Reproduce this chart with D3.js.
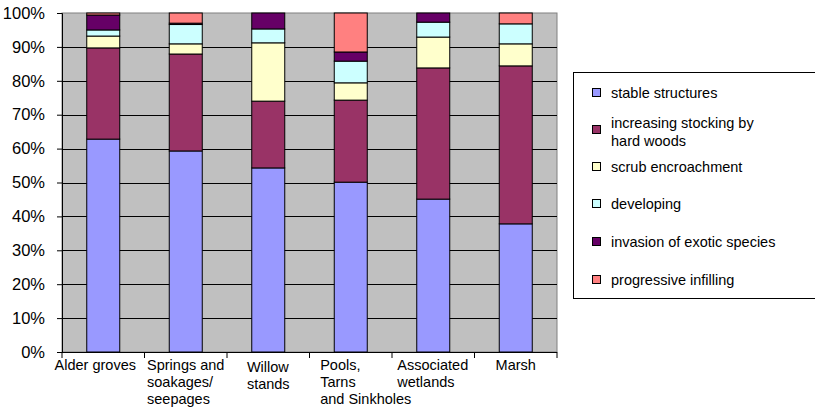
<!DOCTYPE html>
<html>
<head>
<meta charset="utf-8">
<script src="https://cdn.jsdelivr.net/npm/d3@7"></script>
<style>
  body { margin: 0; background: #fff; }
  svg { display: block; font-family: "Liberation Sans", Arial, sans-serif; }
</style>
</head>
<body>
<svg width="815" height="412"></svg>
<script>
// categories (each label split into lines)
var categories = ["Alder groves", "Springs and soakages/ seepages", "Willow stands",
                  "Pools, Tarns and Sinkholes", "Associated wetlands", "Marsh"];
var categoryLines = [["Alder groves"], ["Springs and", "soakages/", "seepages"], ["Willow", "stands"],
                     ["Pools,", "Tarns", "and Sinkholes"], ["Associated", "wetlands"], ["Marsh"]];

// series, percent of sites per category
var seriesNames = ["stable structures", "increasing stocking by hard woods", "scrub encroachment",
                   "developing", "invasion of exotic species", "progressive infilling"];
var stable      = [62.8, 59.3, 54.3, 50.1, 45.1, 37.8];
var hardwoods   = [26.9, 28.6, 19.7, 24.2, 38.7, 46.6];
var scrub       = [ 3.5,  3.0, 17.2,  5.1,  9.1,  6.5];
var developing  = [ 1.8,  5.7,  4.1,  6.4,  4.4,  5.9];
var exotic      = [ 4.4,  0.4,  4.7,  2.7,  2.7,  0.0];
var infilling   = [ 0.6,  3.0,  0.0, 11.5,  0.0,  3.2];

var yTicks = [0, 10, 20, 30, 40, 50, 60, 70, 80, 90, 100];
var colors = ["#9999FF", "#993366", "#FFFFCC", "#CCFFFF", "#660066", "#FF8080"];

var svg = d3.select("svg");
var margin = { top: 13, left: 62, right: 257, bottom: 60 },
    width = 557 - margin.left,
    height = 352 - margin.top;

// build table for the stack
var seriesValues = [stable, hardwoods, scrub, developing, exotic, infilling];
var table = categories.map(function (c, i) {
    var row = { name: c };
    seriesNames.forEach(function (s, j) { row[s] = seriesValues[j][i]; });
    return row;
});
var stacked = d3.stack().keys(seriesNames).offset(d3.stackOffsetExpand)(table);

var x = d3.scaleBand().domain(categories).range([0, width]).paddingInner(0.6).paddingOuter(0.3);
var y = d3.scaleLinear().domain([0, 1]).range([height, 0]);

var g = svg.append("g").attr("transform", "translate(" + margin.left + "," + margin.top + ")");

// plot area
g.append("rect").attr("width", width).attr("height", height)
    .attr("fill", "#C0C0C0").attr("stroke", "#808080").attr("stroke-width", 1);

// gridlines
g.selectAll(".grid").data(yTicks.slice(1, -1)).enter().append("line")
    .attr("x1", 0).attr("x2", width)
    .attr("y1", function (d) { return Math.round(y(d / 100)) + 0.5; })
    .attr("y2", function (d) { return Math.round(y(d / 100)) + 0.5; })
    .attr("stroke", "#000").attr("stroke-width", 1);

// bars
g.selectAll(".series").data(stacked).enter().append("g")
    .attr("fill", function (d, i) { return colors[i]; })
    .selectAll("rect").data(function (d) { return d.filter(function (p) { return p[1] - p[0] > 0; }); })
    .enter().append("rect")
    .attr("x", function (d) { return x(d.data.name); })
    .attr("width", x.bandwidth())
    .attr("y", function (d) { return y(d[1]); })
    .attr("height", function (d) { return y(d[0]) - y(d[1]); })
    .attr("stroke", "#000").attr("stroke-width", 1);

// y axis
var yAxis = g.append("g").call(d3.axisLeft(y).tickValues(yTicks.map(function (d) { return d / 100; }))
    .tickFormat(d3.format(".0%")).tickSize(5).tickPadding(12));
yAxis.select(".domain").attr("stroke", "#000");
yAxis.selectAll("text").style("font-size", "16.5px").attr("fill", "#000");

// x axis line and ticks at category boundaries
g.append("line").attr("x1", 0).attr("x2", width).attr("y1", height + 0.5).attr("y2", height + 0.5)
    .attr("stroke", "#000");
var step = x.step();
g.selectAll(".xtick").data(d3.range(categories.length + 1)).enter().append("line")
    .attr("x1", function (i) { return i * step; }).attr("x2", function (i) { return i * step; })
    .attr("y1", height).attr("y2", height + 6).attr("stroke", "#000");

// category labels
var labelNudge = [-8, 0, 0, 15, 0, 0];
var lbl = g.selectAll(".cat").data(categoryLines).enter().append("text")
    .style("font-size", "14.5px").attr("fill", "#000");
lbl.each(function (lines, i) {
    var t = d3.select(this);
    lines.forEach(function (s, k) {
        t.append("tspan").attr("x", 0)
            .attr("y", height + 18 + k * 17 + (lines.length === 2 && i === 2 ? 2 : 0)).text(s);
    });
    var w = this.getBBox().width;
    t.selectAll("tspan").attr("x", x(categories[i]) + x.bandwidth() / 2 - w / 2 + labelNudge[i]);
});

// legend
var lg = svg.append("g");
lg.append("rect").attr("x", 573.5).attr("y", 72.5).attr("width", 250).attr("height", 226)
    .attr("fill", "#fff").attr("stroke", "#000");
var legendY = [93, 130, 167, 204, 242, 280];
seriesNames.forEach(function (s, i) {
    lg.append("rect").attr("x", 592.5).attr("y", legendY[i] - 4.5).attr("width", 8).attr("height", 8)
        .attr("fill", colors[i]).attr("stroke", "#000");
    var t = lg.append("text").attr("x", 611).style("font-size", "14.5px").attr("fill", "#000");
    if (i === 1) {
        t.append("tspan").attr("x", 611).attr("y", 128).text("increasing stocking by");
        t.append("tspan").attr("x", 611).attr("y", 146).text("hard woods");
    } else {
        t.attr("y", legendY[i] + 5).text(s);
    }
});
</script>
</body>
</html>
